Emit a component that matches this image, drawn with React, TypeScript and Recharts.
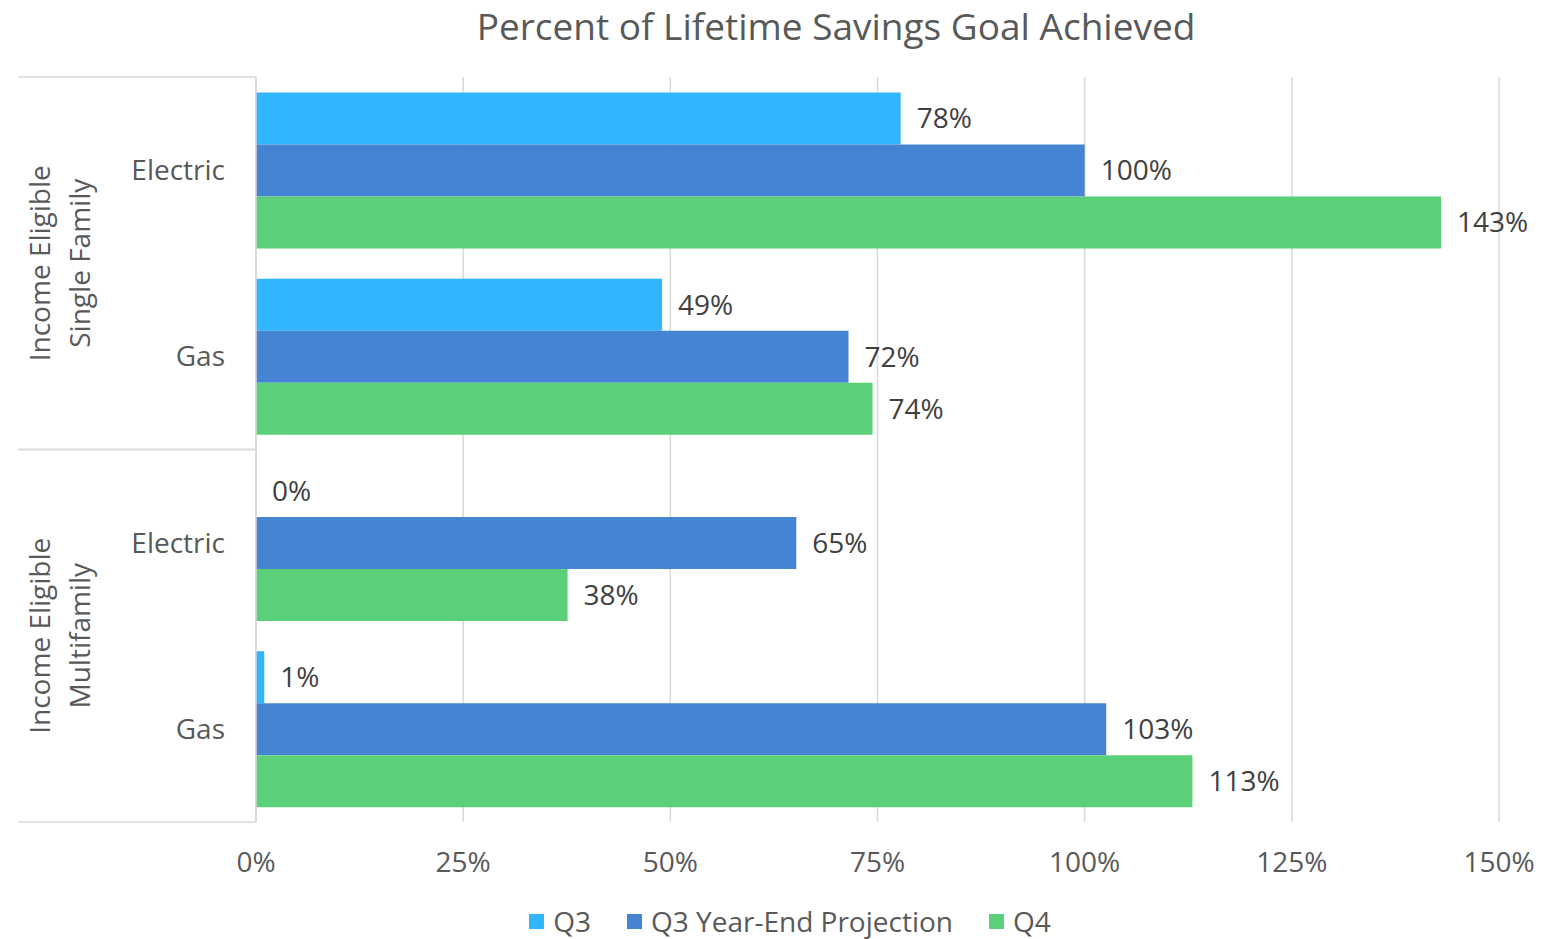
import React from 'react';
import {
  BarChart,
  Bar,
  XAxis,
  YAxis,
  CartesianGrid,
  Legend,
  LabelList
} from 'recharts';

const fuels = ['Electric', 'Gas', 'Electric', 'Gas'];
const programs = [
  'Income Eligible|Single Family',
  'Income Eligible|Single Family',
  'Income Eligible|Multifamily',
  'Income Eligible|Multifamily'
];
const q3 = [77.8, 49, 0, 1];
const q3Projection = [100, 71.5, 65.2, 102.6];
const q4 = [143, 74.4, 37.6, 113];
const xTicks = [0, 25, 50, 75, 100, 125, 150];

const SERIES = [
  { key: 'q3', name: 'Q3', color: '#31b5ff' },
  { key: 'proj', name: 'Q3 Year-End Projection', color: '#4583d3' },
  { key: 'q4', name: 'Q4', color: '#5bd078' }
];

const data = fuels.map((fuel, i) => ({
  fuel,
  program: programs[i],
  q3: q3[i],
  proj: q3Projection[i],
  q4: q4[i]
}));

const FONT = '"Open Sans", sans-serif';
const TEXT = '#595959';
const LINE = '#d9d9d9';

const W = 1533;
const H = 940;
const MARGIN = { top: 69, right: 42, left: 10, bottom: 12 };
const PROGRAM_W = 110;
const FUEL_W = 128;
const PLOT_H = 745;

const ProgramTick = ({ y, payload }: any) => {
  const [l1, l2] = String(payload.value).split('|');
  const half = PLOT_H / 4;
  const x0 = MARGIN.left;
  const x1 = MARGIN.left + PROGRAM_W + FUEL_W;
  return (
    <g>
      <line x1={x0} x2={x1} y1={y - half} y2={y - half} stroke={LINE} strokeWidth={1.5} />
      <line x1={x0} x2={x1} y1={y + half} y2={y + half} stroke={LINE} strokeWidth={1.5} />
      <text
        transform={`translate(${x0 + 32},${y}) rotate(-90)`}
        textAnchor="middle"
        fill={TEXT}
        fontSize={28}
        fontFamily={FONT}
      >
        {l1}
      </text>
      <text
        transform={`translate(${x0 + 72},${y}) rotate(-90)`}
        textAnchor="middle"
        fill={TEXT}
        fontSize={28}
        fontFamily={FONT}
      >
        {l2}
      </text>
    </g>
  );
};

const ValueLabel = (props: any) => {
  const { x, y, width, height, value } = props;
  if (value == null) return null;
  return (
    <text
      x={Number(x) + Number(width || 0) + 16}
      y={Number(y) + Number(height) / 2}
      dy="0.355em"
      fill="#404040"
      fontSize={28}
      fontFamily={FONT}
    >
      {`${Math.round(Number(value))}%`}
    </text>
  );
};

const LegendContent = () => (
  <div
    style={{
      display: 'flex',
      justifyContent: 'center',
      alignItems: 'center',
      height: 30,
      paddingLeft: 63,
      fontFamily: FONT,
      fontSize: 28,
      color: TEXT
    }}
  >
    {SERIES.map((s, i) => (
      <span
        key={s.key}
        style={{ display: 'flex', alignItems: 'center', marginLeft: i === 0 ? 0 : 36 }}
      >
        <span style={{ width: 15, height: 15, background: s.color, marginRight: 9 }} />
        {s.name}
      </span>
    ))}
  </div>
);

// a zero value still gets an (invisible) bar so that its label is drawn
const zeroKeep = (v: any) => (Number(v) === 0 ? 0.01 : 0);

export default function App() {
  return (
    <div style={{ position: 'relative', width: W, height: H }}>
      <div
        style={{
          position: 'absolute',
          top: -1,
          left: 828,
          transform: 'translateX(-50%)',
          whiteSpace: 'nowrap',
          fontFamily: FONT,
          fontSize: 37,
          lineHeight: '37px',
          color: TEXT
        }}
      >
        Percent of Lifetime Savings Goal Achieved
      </div>
      <BarChart
        width={W}
        height={H}
        data={data}
        layout="vertical"
        margin={MARGIN}
        barCategoryGap={15.5}
        barGap={0}
      >
        <CartesianGrid horizontal={false} stroke={LINE} strokeWidth={1.5} />
        <XAxis
          type="number"
          domain={[0, 150]}
          ticks={xTicks}
          tickFormatter={(v) => `${v}%`}
          axisLine={false}
          tickLine={false}
          tickSize={0}
          tickMargin={30}
          height={84}
          tick={{ fill: TEXT, fontSize: 28, fontFamily: FONT }}
        />
        <YAxis
          yAxisId="fuel"
          type="category"
          dataKey="fuel"
          width={FUEL_W}
          axisLine={{ stroke: LINE, strokeWidth: 1.5 }}
          tickLine={false}
          tickSize={0}
          tickMargin={31}
          tick={{ fill: TEXT, fontSize: 28, fontFamily: FONT }}
        />
        <YAxis
          yAxisId="program"
          type="category"
          dataKey="program"
          allowDuplicatedCategory={false}
          width={PROGRAM_W}
          axisLine={false}
          tickLine={false}
          tick={<ProgramTick />}
        />
        {SERIES.map((s) => (
          <Bar
            key={s.key}
            yAxisId="fuel"
            dataKey={s.key}
            name={s.name}
            fill={s.color}
            minPointSize={zeroKeep}
            isAnimationActive={false}
          >
            <LabelList dataKey={s.key} content={<ValueLabel />} />
          </Bar>
        ))}
        <Legend verticalAlign="bottom" content={<LegendContent />} />
      </BarChart>
    </div>
  );
}
